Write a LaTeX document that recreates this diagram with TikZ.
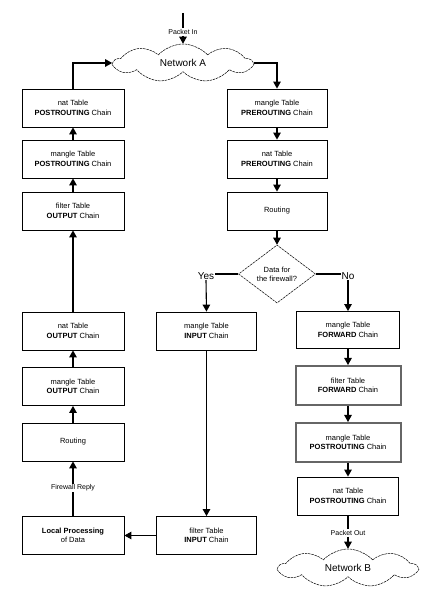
\documentclass[tikz,border=0pt]{standalone}
\usepackage{fontspec}
\setmainfont{Liberation Sans}
\usetikzlibrary{arrows.meta,shapes.geometric,shapes.symbols}

\begin{document}
\begin{tikzpicture}[x=1pt, y=1pt,
		chainbox/.style={draw=black, line width=0.8pt, minimum width=102pt, minimum height=38pt, inner sep=0pt, align=center, font=\fontsize{7.5}{9.5}\selectfont},
		heavybox/.style={chainbox, draw=black!60, line width=2pt, minimum width=105pt, minimum height=39pt},
		netcloud/.style={cloud, cloud puffs=9, cloud puff arc=95, aspect=3.6, draw, dash pattern=on 2.5pt off 0.8pt, line width=0.5pt, minimum width=138pt, minimum height=38pt, inner sep=0pt, font=\fontsize{10}{12}\selectfont},
		flow/.style={-{Triangle[width=7.5pt,length=7pt]}, line width=1.1pt},
		plain/.style={line width=1.1pt},
		tag/.style={fill=white, inner sep=1pt, font=\fontsize{7}{8}\selectfont},
		answer/.style={inner sep=0.5pt, font=\fontsize{10}{12}\selectfont}]
		\useasboundingbox (0,0) rectangle (428,599);

		\node[netcloud] (netA) at (183,536) {Network A};
		\coordinate (inTop) at (183,586);
		\node[tag] (pin) at (183,567) {Packet In};

		\node[chainbox] (natPost) at (73,491) {nat Table\\\textbf{POSTROUTING} Chain};
		\node[chainbox] (manglePost) at (73,440) {mangle Table\\\textbf{POSTROUTING} Chain};
		\node[chainbox] (filterOut) at (73,388) {filter Table\\\textbf{OUTPUT} Chain};
		\node[chainbox] (natOut) at (73,268) {nat Table\\\textbf{OUTPUT} Chain};
		\node[chainbox] (mangleOut) at (73,212.5) {mangle Table\\\textbf{OUTPUT} Chain};
		\node[chainbox] (routeL) at (73,157) {Routing};
		\node[chainbox] (local) at (73,63.5) {\textbf{Local Processing}\\of Data};
		\node[tag] (reply) at (73,111) {Firewall Reply};

		\node[chainbox, minimum width=100pt] (manglePre) at (277,491) {mangle Table\\\textbf{PREROUTING} Chain};
		\node[chainbox, minimum width=100pt] (natPre) at (277,440) {nat Table\\\textbf{PREROUTING} Chain};
		\node[chainbox, minimum width=100pt] (routeR) at (277,388) {Routing};
		\node[diamond, draw, dash pattern=on 2.5pt off 0.8pt, line width=0.5pt, minimum width=77pt, minimum height=58pt, inner sep=0pt, align=center, font=\fontsize{7.5}{9}\selectfont] (dec) at (277,325) {Data for\\the firewall?};
		\node[answer] (yes) at (206,323) {Yes};
		\node[answer] (no) at (348,323) {No};

		\node[chainbox, minimum width=100pt] (mangleIn) at (206.5,268) {mangle Table\\\textbf{INPUT} Chain};
		\node[chainbox, minimum width=100pt] (filterIn) at (206.5,63.5) {filter Table\\\textbf{INPUT} Chain};

		\node[chainbox, minimum width=103pt, minimum height=37pt] (mangleFwd) at (348,269) {mangle Table\\\textbf{FORWARD} Chain};
		\node[heavybox] (filterFwd) at (348,213.5) {filter Table\\\textbf{FORWARD} Chain};
		\node[heavybox] (manglePostF) at (348,156.5) {mangle Table\\\textbf{POSTROUTING} Chain};
		\node[chainbox, minimum width=101pt] (natPostF) at (348,103) {nat Table\\\textbf{POSTROUTING} Chain};
		\node[tag] (pout) at (348,66) {Packet Out};
		\node[netcloud] (netB) at (348,31) {Network B};

		\draw[plain] (inTop) -- (pin);
		\draw[flow] (pin) -- (netA.north);
		\draw[flow] (netA.east) -| (manglePre.north);
		\draw[flow] (manglePre) -- (natPre);
		\draw[flow] (natPre) -- (routeR);
		\draw[flow] (routeR) -- (dec.north);
		\draw[plain] (dec.west) -- (dec.west -| yes.east);
		\draw[plain] (dec.east) -- (dec.east -| no.west);
		\draw[flow] (yes.south) -- (mangleIn.north);
		\draw[flow] (no.south) -- (mangleFwd.north);
		\draw[flow] (mangleIn) -- (filterIn);
		\draw[flow] (filterIn) -- (local);
		\draw[plain] (local) -- (reply);
		\draw[flow] (reply) -- (routeL);
		\draw[flow] (routeL) -- (mangleOut);
		\draw[flow] (mangleOut) -- (natOut);
		\draw[flow] (natOut) -- (filterOut);
		\draw[flow] (filterOut) -- (manglePost);
		\draw[flow] (manglePost) -- (natPost);
		\draw[flow] (natPost.north) |- (netA.west);
		\draw[flow] (mangleFwd) -- (filterFwd);
		\draw[flow] (filterFwd) -- (manglePostF);
		\draw[flow] (manglePostF) -- (natPostF);
		\draw[plain] (natPostF) -- (pout);
		\draw[flow] (pout) -- (netB.north);
	\end{tikzpicture}
\end{document}
